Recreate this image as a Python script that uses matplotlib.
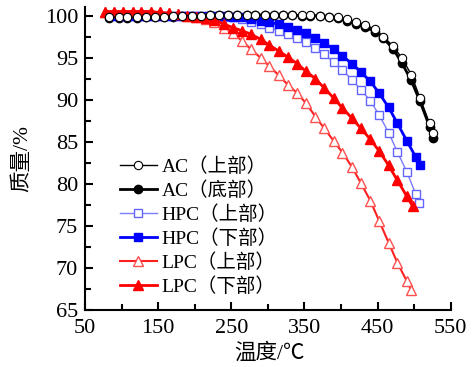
import numpy as np
import matplotlib
matplotlib.use('Agg')
import matplotlib.pyplot as plt
from matplotlib.ticker import MultipleLocator

plt.rcParams['font.family'] = ['Liberation Serif', 'Noto Sans CJK SC', 'DejaVu Sans']
plt.rcParams['axes.unicode_minus'] = False

# temperature grids (°C)
t_ac = [83, 96, 108, 121, 133, 146, 158, 171, 183, 196, 208, 221, 233, 246, 258,
        271, 283, 296, 308, 321, 333, 346, 358, 371, 383, 396, 408, 421, 433, 446,
        458, 471, 483, 496, 508, 521, 526]
t_pc = [77, 90, 102, 115, 127, 140, 152, 165, 177, 190, 202, 215, 227, 240, 252,
        265, 277, 290, 302, 315, 327, 340, 352, 365, 377, 390, 402, 415, 427, 440,
        452, 465, 477, 490]

# mass retention (%)
ac_top = [99.8, 99.8, 99.8, 99.8, 99.9, 99.9, 99.9, 100.0, 100.0, 100.0, 100.0, 100.1, 100.1, 100.1, 100.1,
          100.1, 100.1, 100.1, 100.1, 100.1, 100.1, 100.1, 100.1, 100.0, 99.9, 99.8, 99.6, 99.3, 98.9, 98.4,
          97.5, 96.4, 95.0, 93.0, 90.2, 87.2, 86.1]
ac_bottom = [99.7, 99.7, 99.7, 99.7, 99.8, 99.8, 99.9, 99.9, 100.0, 100.0, 100.0, 100.1, 100.1, 100.1, 100.1,
             100.1, 100.1, 100.1, 100.1, 100.1, 100.1, 100.0, 100.0, 100.0, 99.9, 99.7, 99.4, 99.0, 98.7, 98.1,
             97.3, 96.1, 94.4, 92.3, 89.8, 86.8, 85.4]

hpc_t = t_pc[1:] + [502, 507]
hpc_top = [100.0, 100.0, 100.0, 100.0, 100.0, 100.0, 100.0, 100.0, 100.0, 100.0, 99.9, 99.9, 99.9, 99.8,
           99.6, 99.3, 99.0, 98.6, 98.2, 97.8, 97.4, 96.9, 96.2, 95.4, 94.5, 93.5, 92.4, 91.2, 89.9,
           88.2, 86.1, 83.8, 81.4, 78.8, 77.7]
hpc_t2 = t_pc[1:] + [502, 508]
hpc_bottom = [100.0, 100.0, 100.0, 100.0, 100.0, 100.0, 100.0, 100.0, 100.0, 100.0, 100.0, 100.0, 100.0, 99.9,
              99.8, 99.6, 99.4, 99.2, 99.0, 98.7, 98.3, 97.9, 97.4, 96.8, 96.0, 95.2, 94.3, 93.3, 92.2,
              90.8, 89.1, 87.2, 85.1, 83.2, 82.2]

lpc_t = t_pc + [496]
lpc_top = [100.5, 100.5, 100.5, 100.5, 100.5, 100.5, 100.4, 100.3, 100.2, 100.0, 99.8, 99.6, 99.2, 98.6,
           97.9, 97.0, 96.0, 95.0, 94.0, 92.9, 91.8, 90.8, 89.6, 88.0, 86.6, 85.1, 83.7, 82.0, 80.1,
           78.0, 75.6, 73.0, 70.6, 68.4, 67.3]
lpc_t2 = t_pc + [498]
lpc_bottom = [100.5, 100.5, 100.5, 100.5, 100.5, 100.5, 100.4, 100.3, 100.2, 100.0, 99.9, 99.7, 99.5, 99.0,
              98.6, 98.2, 97.8, 97.2, 96.5, 95.8, 95.1, 94.3, 93.4, 92.5, 91.4, 90.2, 89.0, 87.8, 86.6,
              85.3, 83.9, 82.2, 80.4, 78.5, 77.3]

fig = plt.figure(figsize=(4.72, 3.67), dpi=100)
ax = fig.add_axes([0.18, 0.156, 0.775, 0.824])

ax.plot(t_ac, ac_top, color='black', lw=1.0, marker='o', ms=6, mfc='white', mec='black', mew=0.8,
        label='AC（上部）', zorder=4)
ax.plot(t_ac, ac_bottom, color='black', lw=2.0, marker='o', ms=6, mfc='black', mec='black',
        label='AC（底部）', zorder=3)
ax.plot(hpc_t, hpc_top, color='#7b7bff', lw=1.0, marker='s', ms=5.5, mfc='white', mec='#6464ff', mew=1.0,
        label='HPC（上部）', zorder=3)
ax.plot(hpc_t2, hpc_bottom, color='#0000ff', lw=2.0, marker='s', ms=5.5, mfc='#0000ff', mec='#0000ff',
        label='HPC（下部）', zorder=3)
ax.plot(lpc_t, lpc_top, color='#ff2020', lw=1.5, marker='^', ms=7, mfc='white', mec='#ff5050', mew=1.0,
        label='LPC（上部）', zorder=3)
ax.plot(lpc_t2, lpc_bottom, color='#ff0000', lw=2.0, marker='^', ms=7, mfc='#ff0000', mec='#ff0000',
        label='LPC（下部）', zorder=3)

ax.set_xlim(50, 550)
ax.set_ylim(65, 101)
ax.set_xticks([50, 150, 250, 350, 450, 550])
ax.xaxis.set_minor_locator(MultipleLocator(50))
ax.yaxis.set_major_locator(MultipleLocator(5))
ax.yaxis.set_minor_locator(MultipleLocator(2.5))
ax.tick_params(which='both', direction='in', width=1.5, labelsize=16)
ax.tick_params(which='major', length=6)
ax.tick_params(which='minor', length=4)
ax.tick_params(axis='x', pad=7)
ax.tick_params(axis='y', pad=5)
ax.spines['top'].set_visible(False)
ax.spines['right'].set_visible(False)
ax.spines['left'].set_linewidth(1.5)
ax.spines['bottom'].set_linewidth(1.5)

ax.set_xlabel('温度/℃', fontsize=15.5)
ax.set_ylabel('质量/%', fontsize=15.5)
ax.xaxis.set_label_coords(0.505, -0.11)
ax.yaxis.set_label_coords(-0.145, 0.5)

ax.legend(loc='upper left', bbox_to_anchor=(0.068, 0.537), frameon=False, fontsize=14,
          handlelength=1.9, handletextpad=0.25, labelspacing=0.28, borderpad=0)

fig.savefig('out.png', dpi=100)
